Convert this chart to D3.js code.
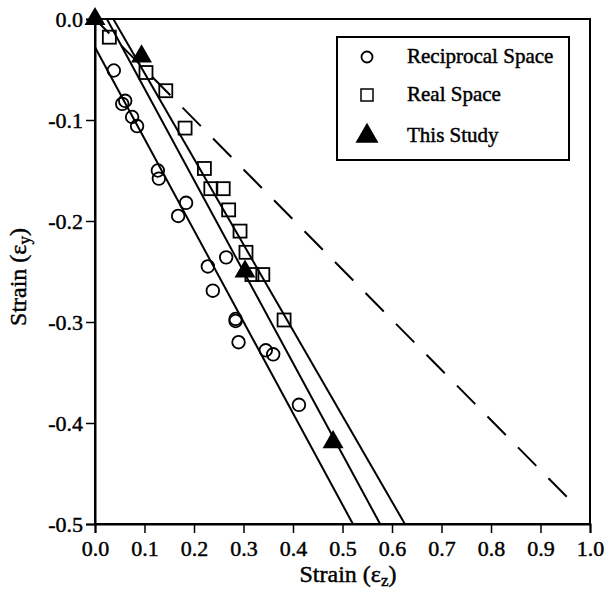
<!DOCTYPE html>
<html><head><meta charset="utf-8">
<script src="https://cdn.jsdelivr.net/npm/d3@7"></script>
<style>body{margin:0;background:#fff}svg{display:block}text{font-family:"Liberation Serif","Times New Roman",serif;fill:#000;stroke:#000;stroke-width:0.45px}</style>
</head><body><svg id="c" width="606" height="591"></svg>
<script>
// Data
const reciprocal = [
  [0.038,-0.051],[0.055,-0.084],[0.061,-0.081],[0.075,-0.097],[0.085,-0.106],
  [0.127,-0.150],[0.129,-0.158],[0.168,-0.195],[0.184,-0.182],[0.228,-0.245],
  [0.238,-0.269],[0.265,-0.236],[0.284,-0.297],[0.284,-0.299],[0.290,-0.320],
  [0.345,-0.328],[0.360,-0.332],[0.412,-0.382]
];
const realSpace = [
  [0.029,-0.018],[0.103,-0.053],[0.143,-0.071],[0.182,-0.108],[0.221,-0.148],
  [0.234,-0.168],[0.259,-0.168],[0.270,-0.189],[0.293,-0.210],[0.305,-0.231],
  [0.317,-0.253],[0.339,-0.253],[0.382,-0.298]
];
const thisStudy = [[0.0,0.0],[0.094,-0.037],[0.303,-0.250],[0.481,-0.419]];
const fitLine1 = [[0.0,-0.028],[0.521,-0.5]];
const fitLine2 = [[0.024,0.0],[0.576,-0.5]];
const fitLine3 = [[0.037,0.0],[0.626,-0.5]];
const dashedLine = [[0.0,0.0],[0.953,-0.473]];
const xTicks = [0,0.1,0.2,0.3,0.4,0.5,0.6,0.7,0.8,0.9,1.0];
const yTicks = [0,-0.1,-0.2,-0.3,-0.4,-0.5];
const legendLabels = ["Reciprocal Space","Real Space","This Study"];

const svg = d3.select("#c");
const L=95, T=19, W=495, H=505;
const x = d3.scaleLinear().domain([0,1]).range([L,L+W]);
const y = d3.scaleLinear().domain([-0.5,0]).range([T+H,T]);
const fmt = v => (v<0?"-":"") + Math.abs(v).toFixed(1);
const FF = '"Liberation Serif","Times New Roman",serif';

// frame
svg.append("rect").attr("x",L).attr("y",T).attr("width",W).attr("height",H)
  .attr("fill","none").attr("stroke","#000").attr("stroke-width",2);

const xAxis = svg.append("g").attr("transform",`translate(0,${T+H})`)
  .call(d3.axisBottom(x).tickValues(xTicks).tickFormat(fmt).tickSize(9).tickPadding(7));
const yAxis = svg.append("g").attr("transform",`translate(${L},0)`)
  .call(d3.axisLeft(y).tickValues(yTicks).tickFormat(fmt).tickSize(9).tickPadding(3));
[xAxis,yAxis].forEach(g=>{
  g.attr("font-family",null).attr("font-size",null);
  g.select(".domain").attr("stroke-width",2);
  g.selectAll(".tick line").attr("stroke-width",1.5);
  g.selectAll("text").attr("font-family",FF).attr("font-size",22).attr("fill","#000");
});

// titles
const xt = svg.append("text").attr("x",348).attr("y",582).attr("text-anchor","middle").attr("font-size",24);
xt.append("tspan").text("Strain (ε");
xt.append("tspan").attr("dy",4).attr("font-size",17).text("z");
xt.append("tspan").attr("dy",-4).text(")");
const yt = svg.append("text").attr("transform","translate(26,277) rotate(-90)").attr("text-anchor","middle").attr("font-size",24);
yt.append("tspan").text("Strain (ε");
yt.append("tspan").attr("dy",4).attr("font-size",17).text("y");
yt.append("tspan").attr("dy",-4).text(")");

const line = d3.line().x(d=>x(d[0])).y(d=>y(d[1]));
const plot = svg.append("g");
[fitLine1,fitLine2,fitLine3].forEach(l=>plot.append("path").attr("d",line(l)).attr("fill","none").attr("stroke","#000").attr("stroke-width",2));
plot.append("path").attr("d",line(dashedLine)).attr("fill","none").attr("stroke","#000").attr("stroke-width",2)
  .attr("stroke-dasharray","26,17.4").attr("stroke-dashoffset",5.6);

plot.selectAll("circle.r").data(reciprocal).join("circle").attr("class","r")
  .attr("cx",d=>x(d[0])).attr("cy",d=>y(d[1])).attr("r",6.3)
  .attr("fill","none").attr("stroke","#000").attr("stroke-width",1.8);
const s=13;
plot.selectAll("rect.s").data(realSpace).join("rect").attr("class","s")
  .attr("x",d=>x(d[0])-s/2).attr("y",d=>y(d[1])-s/2).attr("width",s).attr("height",s)
  .attr("fill","none").attr("stroke","#000").attr("stroke-width",1.8);
const tri = d3.symbol().type(d3.symbolTriangle).size(190);
plot.selectAll("path.t").data(thisStudy).join("path").attr("class","t")
  .attr("transform",d=>`translate(${x(d[0])},${y(d[1])})`).attr("d",tri).attr("fill","#000");

// legend
const lg = svg.append("g");
lg.append("rect").attr("x",337).attr("y",37).attr("width",232).attr("height",123)
  .attr("fill","#fff").attr("stroke","#000").attr("stroke-width",2);
const rows=[57,95,136];
lg.append("circle").attr("cx",367).attr("cy",rows[0]).attr("r",5.5).attr("fill","none").attr("stroke","#000").attr("stroke-width",1.8);
lg.append("rect").attr("x",361).attr("y",rows[1]-6).attr("width",12).attr("height",12).attr("fill","none").attr("stroke","#000").attr("stroke-width",1.5);
lg.append("path").attr("transform",`translate(367,${rows[2]})`).attr("d",d3.symbol().type(d3.symbolTriangle).size(230)()).attr("fill","#000");
legendLabels.forEach((t,i)=>lg.append("text").attr("x",407).attr("y",rows[i]+6).attr("font-size",21).text(t));
</script></body></html>
